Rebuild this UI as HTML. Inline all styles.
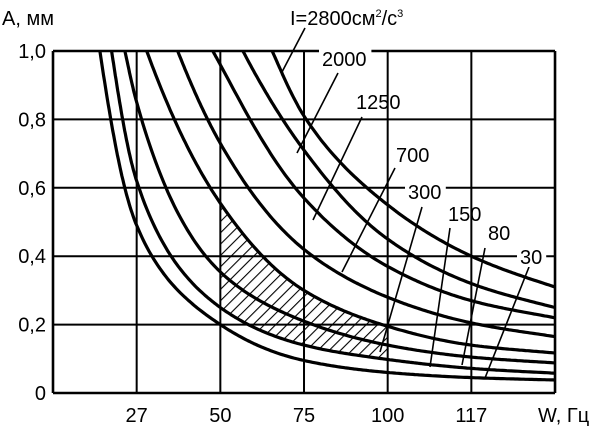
<!DOCTYPE html>
<html><head><meta charset="utf-8"><style>
html,body{margin:0;padding:0;background:#fff;}
svg{display:block;font-family:"Liberation Sans","DejaVu Sans",sans-serif;}
</style></head><body>
<svg id="chart" width="600" height="427" viewBox="0 0 600 427">
<defs>
<pattern id="hatch" patternUnits="userSpaceOnUse" width="8" height="8" patternTransform="rotate(45)">
<line x1="0" y1="0" x2="0" y2="8" stroke="#000" stroke-width="2.2"/>
</pattern>
<clipPath id="hatchClip"><path id="hatchClipPath" d=""/></clipPath>
</defs>
<g id="grid"></g>
<g id="hatchG"></g>
<g id="curves"></g>
<g id="leaders"></g>
<g id="labels"></g>
<text x="2" y="25" font-size="20">A, мм</text>
<text x="538" y="422" font-size="20">W, Гц</text>
</svg>
<script>
// data
const xCategories = ["27","50","75","100","117"];
const yTicks = [0,0.2,0.4,0.6,0.8,1.0];
const yTickLabels = ["0","0,2","0,4","0,6","0,8","1,0"];
const seriesNames = ["30","80","150","300","700","1250","2000","2800"];
const topCrossing = [0.56,0.70,0.86,1.12,1.49,1.91,2.27,2.62];
const s30   = [0.49,0.20,0.095,0.06,0.045,0.038];
const s80   = [0.62,0.25,0.14,0.098,0.072,0.058];
const s150  = [0.85,0.354,0.21,0.14,0.105,0.088];
const s300  = [null,0.555,0.30,0.195,0.14,0.117];
const s700  = [null,0.73,0.42,0.28,0.205,0.165];
const s1250 = [null,0.96,0.57,0.37,0.27,0.22];
const s2000 = [null,null,0.71,0.45,0.32,0.25];
const s2800 = [null,null,0.81,0.55,0.40,0.31];
const seriesValues = [s30,s80,s150,s300,s700,s1250,s2000,s2800];

const NS="http://www.w3.org/2000/svg";
const X0=53, UW=83.67, Y0=393, YH=342;
function xOf(u){return X0+u*UW;}
function yOf(a){return Y0-a*YH;}
function mk(tag,attrs,parent){const e=document.createElementNS(NS,tag);for(const k in attrs)e.setAttribute(k,attrs[k]);parent.appendChild(e);return e;}

const grid=document.getElementById('grid');
for(let i=0;i<yTicks.length;i++){
  const y=yOf(yTicks[i]);
  const l=mk('line',{x1:X0,x2:xOf(6),y1:y,y2:y,stroke:'#000','stroke-width':(i==0||i==5)?2.6:2},grid);
  
  
  const t=mk('text',{x:46,y:y+7,'font-size':20,'text-anchor':'end'},grid);
  t.textContent=yTickLabels[i];
  
  
}
for(let i=0;i<=xCategories.length+1;i++){
  const x=xOf(i);
  const l=mk('line',{x1:x,x2:x,y1:yOf(1),y2:yOf(0),stroke:'#000','stroke-width':(i==0||i==6)?2.6:2},grid);
  
  
  if(i>=1&&i<=xCategories.length){
    const t=mk('text',{x:x,y:422,'font-size':20,'text-anchor':'middle'},grid);
    t.textContent=xCategories[i-1];
    
    
  }
}

function seriesPoints(k){
  const pts=[[topCrossing[k],1.0]];
  seriesValues[k].forEach((v,i)=>{const u=i+1;if(v!==null&&u>topCrossing[k])pts.push([u,v]);});
  return pts;
}
// monotone cubic interpolation of ln(A) vs u
function sample(pts,n){
  const xs=pts.map(p=>p[0]), ys=pts.map(p=>Math.log(p[1]));
  const m=xs.length, d=[], h=[];
  for(let i=0;i<m-1;i++){h.push(xs[i+1]-xs[i]);d.push((ys[i+1]-ys[i])/h[i]);}
  const t=new Array(m);
  t[0]=d[0]; t[m-1]=d[m-2];
  for(let i=1;i<m-1;i++){
    if(d[i-1]*d[i]<=0)t[i]=0;
    else{const w1=2*h[i]+h[i-1],w2=h[i]+2*h[i-1];t[i]=(w1+w2)/(w1/d[i-1]+w2/d[i]);}
  }
  const out=[];
  for(let i=0;i<m-1;i++){
    for(let s=0;s<n;s++){
      const q=s/n,q2=q*q,q3=q2*q;
      const y=(2*q3-3*q2+1)*ys[i]+(q3-2*q2+q)*h[i]*t[i]+(-2*q3+3*q2)*ys[i+1]+(q3-q2)*h[i]*t[i+1];
      const u=xs[i]+q*h[i];
      out.push([xOf(u),yOf(Math.exp(y))]);
    }
  }
  out.push([xOf(xs[m-1]),yOf(Math.exp(ys[m-1]))]);
  return out;
}
const curveSamples=[];
const curves=document.getElementById('curves');
for(let k=0;k<seriesNames.length;k++){
  const s=sample(seriesPoints(k),40);
  curveSamples.push(s);
  const p=mk('polyline',{points:s.map(q=>q[0].toFixed(1)+','+q[1].toFixed(1)).join(' '),fill:'none',stroke:'#000','stroke-width':3.2,'stroke-linejoin':'round'},curves);
  
  
}
// hatch between curve 300 and curve 80, from W=50 to W=100
function segment(s,x1,x2){return s.filter(q=>q[0]>=x1-0.5&&q[0]<=x2+0.5);}
const up=segment(curveSamples[3],xOf(2),xOf(4));
const lo=segment(curveSamples[1],xOf(2),xOf(4)).reverse();
const poly=up.concat(lo);
document.getElementById('hatchClipPath').setAttribute('d','M'+poly.map(q=>q[0].toFixed(1)+' '+q[1].toFixed(1)).join(' L')+' Z');
const hr=mk('rect',{x:xOf(2),y:yOf(0.6),width:UW*2,height:YH*0.6,fill:'url(#hatch)','clip-path':'url(#hatchClip)'},document.getElementById('hatchG'));



// leaders and labels
const leaderLines=[[305,28,282,72],[338,73,297,153],[362,117,313,220],[395,168,342,272],[422,207,380,352],[450,228,430,367],[485,248,462,365],[529,267,485,378]];
const leaders=document.getElementById('leaders');
leaderLines.forEach((L,i)=>{
  const l=mk('line',{x1:L[0],y1:L[1],x2:L[2],y2:L[3],stroke:'#000','stroke-width':1.6},leaders);
  
  
});
const labelsG=document.getElementById('labels');
const labelDefs=[["2000",322,66,true],["1250",356,109,false],["700",396,162,false],["300",408,199,true],["150",448,221,false],["80",488,240,false],["30",520,264,true]];
labelDefs.forEach(d=>{
  if(d[3]){
    const r=mk('rect',{x:d[1]-3,y:d[2]-17,width:d[0].length*11.6+6,height:20,fill:'#fff'},labelsG);
    
    
  }
  const t=mk('text',{x:d[1],y:d[2],'font-size':20},labelsG);
  t.textContent=d[0];
  
  
});
const main=mk('text',{x:290,y:25,'font-size':20},labelsG);


main.innerHTML='I=2800см<tspan font-size="11" dy="-8">2</tspan><tspan dy="8">/с</tspan><tspan font-size="11" dy="-8">3</tspan>';
</script>
</body></html>
